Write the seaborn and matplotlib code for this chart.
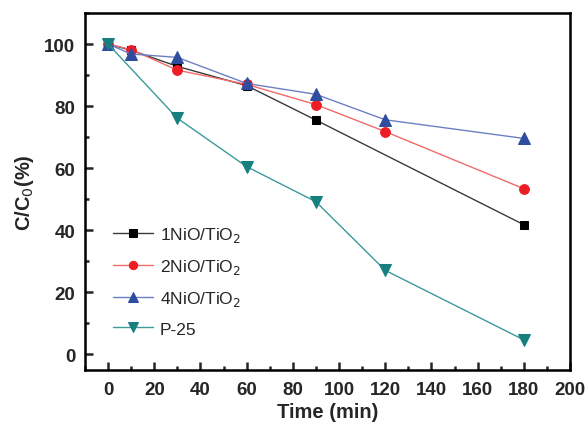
import matplotlib
matplotlib.use("Agg")
import matplotlib.pyplot as plt
import seaborn as sns
import pandas as pd
from matplotlib.ticker import MultipleLocator

sns.set_style("ticks")
plt.rcParams['font.family'] = ['Liberation Sans', 'DejaVu Sans']

t_1nio = [0, 10, 30, 60, 90, 180]
v_1nio = [100, 98.0, 92.8, 86.6, 75.5, 41.8]
t_2nio = [0, 10, 30, 60, 90, 120, 180]
v_2nio = [100, 98.2, 91.6, 87.0, 80.5, 71.8, 53.4]
t_4nio = [0, 10, 30, 60, 90, 120, 180]
v_4nio = [100, 96.8, 95.7, 87.3, 83.8, 75.6, 69.6]
t_p25 = [0, 30, 60, 90, 120, 180]
v_p25 = [100, 76.1, 60.5, 49.2, 27.1, 4.7]

labels = ["1NiO/TiO$_2$", "2NiO/TiO$_2$", "4NiO/TiO$_2$", "P-25"]

series = [
    (t_1nio, v_1nio, labels[0], "s", "#3a3a3a", "#000000", 6),
    (t_2nio, v_2nio, labels[1], "o", "#f26a6a", "#ee1c25", 7),
    (t_4nio, v_4nio, labels[2], "^", "#6d7fc4", "#2f4d9e", 8),
    (t_p25, v_p25, labels[3], "v", "#3b9a9a", "#17807f", 8),
]

fig = plt.figure(figsize=(5.88, 4.27), dpi=100)
ax = fig.add_axes([85/588, 56/427, 485/588, 357/427])

for t, v, lab, m, lc, mc, ms in series:
    df = pd.DataFrame({"t": t, "v": v})
    sns.lineplot(data=df, x="t", y="v", ax=ax, label=lab, marker=m,
                 color=lc, markerfacecolor=mc, markeredgecolor=mc,
                 markersize=ms, linewidth=1.0)

ax.set_xlim(-10, 200)
ax.set_ylim(-5, 110)
ax.xaxis.set_major_locator(MultipleLocator(20))
ax.xaxis.set_minor_locator(MultipleLocator(10))
ax.yaxis.set_major_locator(MultipleLocator(20))
ax.yaxis.set_minor_locator(MultipleLocator(10))
ax.tick_params(which="both", direction="in", width=1.8, top=False, right=False)
ax.tick_params(which="major", length=6)
ax.tick_params(which="minor", length=3)
ax.tick_params(axis="x", pad=8)
ax.tick_params(axis="y", pad=7)
for s in ax.spines.values():
    s.set_linewidth(1.8)
    s.set_visible(True)
    s.set_color("black")
for lbl in ax.get_xticklabels() + ax.get_yticklabels():
    lbl.set_fontweight("bold")
    lbl.set_fontsize(13.5)
ax.set_xlabel("Time (min)", fontsize=14.5, fontweight="bold", labelpad=3)
ax.set_ylabel("C/C$_0$(%)", fontsize=14.5, fontweight="bold", labelpad=6)

leg = ax.legend(loc="lower left", bbox_to_anchor=(0.025, 0.05), frameon=False,
                fontsize=12.5, handlelength=2.3, labelspacing=0.75,
                handletextpad=0.4, markerscale=0.85)

fig.savefig("out.png", dpi=100)
